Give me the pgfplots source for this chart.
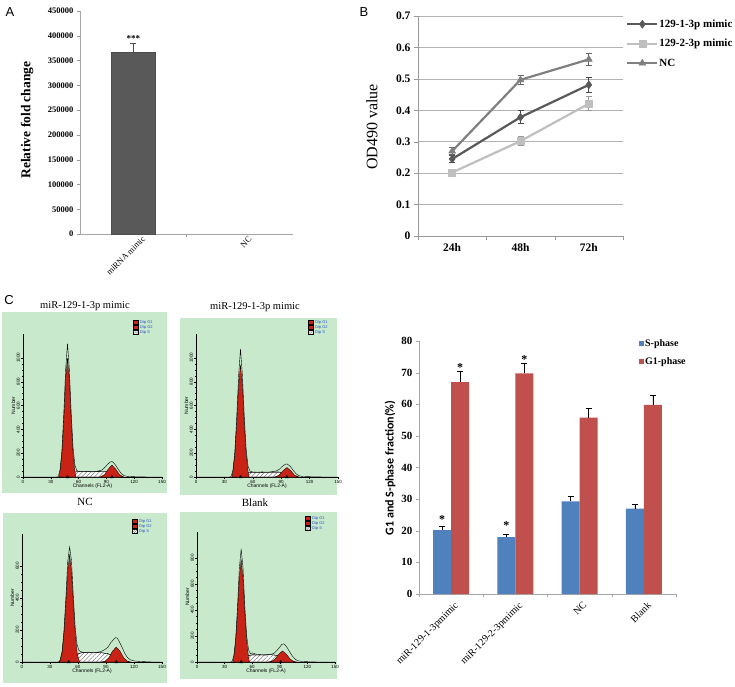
\documentclass[border=0pt]{standalone}
\usepackage{fontspec}
\setmainfont{Liberation Serif}
\newfontfamily\arial{Liberation Sans}
\newfontfamily\calibri{Carlito}
\usepackage{pgfplots}
\pgfplotsset{compat=1.18}
\usetikzlibrary{patterns,patterns.meta}

\definecolor{exblue}{RGB}{79,129,189}
\definecolor{exred}{RGB}{192,80,77}
\definecolor{fcsgreen}{RGB}{200,233,204}
\definecolor{fcsred}{RGB}{200,35,20}
\definecolor{fcsblue}{RGB}{40,80,200}
\definecolor{odA}{RGB}{89,89,89}
\definecolor{odB}{RGB}{191,191,191}
\definecolor{odC}{RGB}{128,128,128}

\newcommand{\fsz}[1]{\fontsize{#1}{#1}\selectfont}

% small legend of the cell-cycle histograms
\newcommand{\fcsleg}[2]{%
  \begin{scope}[shift={(#1pt,-#2pt)}]
    \filldraw[fill=fcsred, draw=black, line width=0.2pt] (0,1.8pt) rectangle (5pt,-1.8pt);
    \filldraw[fill=fcsred, draw=black, line width=0.2pt] (0,-3.2pt) rectangle (5pt,-6.8pt);
    \filldraw[fill=white, draw=black, line width=0.2pt] (0,-8.2pt) rectangle (5pt,-11.8pt);
    \path[pattern={Lines[angle=45,distance=1.5pt,line width=0.25pt]}, pattern color=black!70] (0,-8.2pt) rectangle (5pt,-11.8pt);
    \node[anchor=west, font=\arial\fsz{4}, text=fcsblue, inner sep=0pt] at (7pt,0) {Dip G1};
    \node[anchor=west, font=\arial\fsz{4}, text=fcsblue, inner sep=0pt] at (7pt,-5pt) {Dip G2};
    \node[anchor=west, font=\arial\fsz{4}, text=fcsblue, inner sep=0pt] at (7pt,-10pt) {Dip S};
  \end{scope}}

\pgfplotsset{
  fcs/.style={scale only axis, anchor=south west, axis lines*=left,
    xmin=0, xmax=150, ymin=0, xtick={0,30,...,150},
    minor x tick num=5, minor y tick num=3, tick align=outside,
    major tick length=2pt, minor tick length=1pt,
    tick style={black, line width=0.3pt}, axis line style={black, line width=0.4pt},
    ticklabel style={font=\arial\fsz{4.5}, inner sep=1pt},
    yticklabel style={rotate=90, anchor=south},
    label style={font=\arial\fsz{5}},
    xlabel={Channels (FL2-A)}, ylabel={Number},
    xlabel style={yshift=4pt}, ylabel style={yshift=-3pt},
    clip=false, scaled y ticks=false,
    /pgf/number format/1000 sep={}, /pgf/number format/assume math mode=true},
  hatchS/.style={fill=white, postaction={pattern={Lines[angle=45,distance=3pt,line width=0.35pt]}, pattern color=black!65}, draw=black, line width=0.3pt},
  redpk/.style={fill=fcsred, draw=black, line width=0.3pt},
  envl/.style={black, line width=0.4pt},
  tri/.style={only marks, mark=triangle*, mark size=1.6pt, mark options={black}},
}

\begin{document}
\begin{tikzpicture}
\useasboundingbox (0,0) rectangle (735pt,-686pt);
\fill[white] (0,0) rectangle (735pt,-686pt);

% ---------------- A ----------------
\node[font=\arial\fsz{13}] at (10pt,-12pt) {A};
\node[rotate=90, font=\bfseries\fsz{13.5}] at (27pt,-120pt) {Relative fold change};
\begin{axis}[scale only axis, anchor=south west, at={(80pt,-234pt)}, width=213pt, height=223pt,
  ymin=0, ymax=450000, ytick={0,50000,...,450000},
  xmin=-0.5, xmax=1.5, xtick={0.5}, xticklabels={},
  extra x ticks={0,1}, extra x tick labels={miRNA mimic,NC},
  extra x tick style={major tick length=0pt, xticklabel style={rotate=45, anchor=north east, font=\fsz{8.5}, inner sep=1pt, xshift=6pt, yshift=-6pt}},
  axis lines*=left, axis line style={black!35}, tick style={black!40}, tick align=outside, major tick length=3pt,
  yticklabel style={font=\bfseries\fsz{8.5}},
  scaled y ticks=false, /pgf/number format/fixed, /pgf/number format/1000 sep={},
  /pgf/number format/assume math mode=true, clip=false]
\addplot[ybar, bar width=44pt, fill=black!65, draw=black!70,
  error bars/.cd, y dir=plus, y explicit, error bar style={black!70, line width=0.8pt},
  error mark options={rotate=90, mark size=3pt, black!70, line width=0.8pt}]
  coordinates {(0,367000) +- (0,18000)};
\node[font=\bfseries\fsz{9}] at (axis cs:0,394000) {***};
\end{axis}

% ---------------- B ----------------
\node[font=\arial\fsz{13}] at (364pt,-12pt) {B};
\node[rotate=90, font=\fsz{16}] at (372pt,-127pt) {OD490 value};
\begin{axis}[scale only axis, anchor=south west, at={(418pt,-236pt)}, width=205pt, height=220pt,
  ymin=0, ymax=0.7, ytick={0,0.1,0.2,0.3,0.4,0.5,0.6,0.7},
  ymajorgrids, grid style={black!30, line width=0.6pt},
  xmin=-0.5, xmax=2.5, xtick={-0.5,0.5,1.5,2.5}, xticklabels={},
  extra x ticks={0,1,2}, extra x tick labels={24h,48h,72h},
  extra x tick style={major tick length=0pt, xticklabel style={font=\bfseries\fsz{11.5}, yshift=-4pt}},
  axis lines*=left, axis line style={black!40}, tick style={black!40}, tick align=outside, major tick length=4pt,
  ticklabel style={font=\bfseries\fsz{11.5}},
  /pgf/number format/assume math mode=true, clip=false,
  legend style={at={(1,1)}, anchor=north west, draw=none, fill=none, font=\bfseries\fsz{11},
    nodes={inner sep=1pt, text height=8pt, text depth=2pt}, row sep=7.5pt},
  legend cell align=left,
  legend image code/.code={\draw[#1, mark repeat=2, mark phase=2] plot coordinates {(0pt,0pt) (15pt,0pt) (30pt,0pt)};}]
\addplot[odA, line width=2.2pt, mark=diamond*, mark size=4pt, mark options={solid, line width=0.5pt},
  error bars/.cd, y dir=both, y explicit, error bar style={odA!80!black, line width=1pt},
  error mark options={rotate=90, mark size=3pt, odA!80!black, line width=1pt}]
  coordinates {(0,0.245) +- (0,0.012) (1,0.378) +- (0,0.02) (2,0.481) +- (0,0.024)};
\addlegendentry{129-1-3p mimic}
\addplot[odB, line width=2.2pt, mark=square*, mark size=3.5pt, mark options={solid, line width=0.5pt},
  error bars/.cd, y dir=both, y explicit, error bar style={odB!80!black, line width=1pt},
  error mark options={rotate=90, mark size=3pt, odB!80!black, line width=1pt}]
  coordinates {(0,0.202) +- (0,0.006) (1,0.302) +- (0,0.015) (2,0.421) +- (0,0.022)};
\addlegendentry{129-2-3p mimic}
\addplot[odC, line width=2.2pt, mark=triangle*, mark size=4pt, mark options={solid, line width=0.5pt},
  error bars/.cd, y dir=both, y explicit, error bar style={odC!80!black, line width=1pt},
  error mark options={rotate=90, mark size=3pt, odC!80!black, line width=1pt}]
  coordinates {(0,0.27) +- (0,0.012) (1,0.497) +- (0,0.015) (2,0.562) +- (0,0.018)};
\addlegendentry{NC}
\end{axis}

% ---------------- C : histograms ----------------
\node[font=\arial\fsz{13}] at (9pt,-300pt) {C};
\fill[fcsgreen] (2pt,-312pt) rectangle (167pt,-493pt);
\fill[fcsgreen] (180pt,-318pt) rectangle (337pt,-495pt);
\fill[fcsgreen] (3pt,-513pt) rectangle (167pt,-683pt);
\fill[fcsgreen] (180pt,-512pt) rectangle (337pt,-679pt);
\node[font=\fsz{10.5}] at (85pt,-306pt) {miR-129-1-3p mimic};
\node[font=\fsz{10.5}] at (255pt,-307pt) {miR-129-1-3p mimic};
\node[font=\fsz{11}] at (85pt,-502pt) {NC};
\node[font=\fsz{11}] at (255pt,-503pt) {Blank};

\begin{axis}[fcs, at={(23pt,-477pt)}, width=139pt, height=143pt, ymax=1200, ytick={0,200,...,1000}]
\addplot[hatchS] coordinates {(44,0)(48,8)(51,22)(54,36)(57,43)(60,45)(70,44)(80,45)(88,46)(92,40)(96,27)(99,14)(102,5)(105,0)} \closedcycle;
\addplot[redpk] coordinates {(39,0)(40,50)(42,200)(44,480)(46,820)(48,1000)(50,820)(52,480)(54,200)(56,50)(57,0)} \closedcycle;
\addplot[redpk] coordinates {(83,0)(84,3)(88,21)(92,67)(96,100)(100,67)(104,21)(108,3)(109,0)} \closedcycle;
\addplot[envl] coordinates {(0,0)(36,0)(38,3)(40,60)(42,225)(44,530)(46,900)(48,1120)(50,905)(52,540)(54,250)(56,100)(58,55)(60,48)(65,44)(70,46)(75,43)(80,48)(85,58)(88,78)(91,105)(94,125)(96,130)(98,118)(100,98)(103,62)(106,30)(109,12)(112,6)(118,3)(125,2)(135,0)(150,0)};
\addplot[tri] coordinates {(48,0)(96,0)};
\end{axis}
\fcsleg{133}{322}

\begin{axis}[fcs, at={(196pt,-477pt)}, width=142pt, height=143pt, ymax=1200, ytick={0,200,...,1000}]
\addplot[hatchS] coordinates {(43,0)(47,7)(50,20)(53,32)(56,38)(60,40)(70,39)(80,41)(88,41)(92,36)(96,24)(99,12)(102,4)(105,0)} \closedcycle;
\addplot[redpk] coordinates {(38,0)(39,47)(41,188)(43,451)(45,771)(47,940)(49,771)(51,451)(53,188)(55,47)(56,0)} \closedcycle;
\addplot[redpk] coordinates {(83,0)(84,2)(88,16)(92,54)(96,80)(100,54)(104,16)(108,2)(109,0)} \closedcycle;
\addplot[envl] coordinates {(0,0)(35,0)(37,3)(39,55)(41,210)(43,500)(45,850)(47,1075)(49,855)(51,505)(53,230)(55,90)(57,50)(60,42)(65,40)(70,43)(75,40)(80,44)(85,52)(88,65)(91,88)(94,105)(96,110)(98,100)(100,85)(103,52)(106,25)(109,10)(112,5)(118,3)(125,2)(135,0)(150,0)};
\addplot[tri] coordinates {(47,0)(96,0)};
\end{axis}
\fcsleg{308}{322}

\begin{axis}[fcs, at={(22pt,-662pt)}, width=140pt, height=128pt, ymax=800, ytick={0,200,400,600}]
\addplot[hatchS] coordinates {(46,0)(50,10)(54,28)(58,45)(62,55)(66,60)(75,60)(85,58)(92,52)(97,40)(101,26)(105,13)(109,4)(112,0)} \closedcycle;
\addplot[redpk] coordinates {(40,0)(41,13)(43,60)(45,181)(47,369)(49,570)(51,670)(53,570)(55,369)(57,181)(59,60)(61,13)(62,0)} \closedcycle;
\addplot[redpk] coordinates {(85,0)(86,1)(89,5)(93,26)(97,68)(101,94)(105,68)(109,26)(113,5)(116,1)(117,0)} \closedcycle;
\addplot[envl] coordinates {(0,0)(38,0)(40,3)(41,15)(43,68)(45,200)(47,400)(49,630)(51,719)(53,635)(55,410)(57,215)(59,110)(61,72)(64,62)(68,58)(72,62)(76,57)(80,60)(84,64)(88,75)(92,92)(95,120)(98,140)(100,152)(102,150)(104,130)(107,95)(110,55)(113,28)(116,14)(120,7)(125,4)(132,2)(140,0)(150,0)};
\addplot[tri] coordinates {(50,0)(101,0)};
\end{axis}
\fcsleg{132}{521}

\begin{axis}[fcs, at={(197pt,-662pt)}, width=138pt, height=130pt, ymax=1000, ytick={0,200,...,800}]
\addplot[hatchS] coordinates {(43,0)(47,8)(50,22)(53,38)(56,50)(60,55)(70,54)(80,56)(86,52)(90,42)(93,30)(97,16)(101,6)(104,0)} \closedcycle;
\addplot[redpk] coordinates {(39,0)(40,40)(42,158)(44,379)(46,648)(48,790)(50,648)(52,379)(54,158)(56,40)(57,0)} \closedcycle;
\addplot[redpk] coordinates {(77,0)(78,1)(81,5)(85,24)(89,62)(93,85)(97,62)(101,24)(105,5)(108,1)(109,0)} \closedcycle;
\addplot[envl] coordinates {(0,0)(36,0)(38,3)(40,45)(42,175)(44,420)(46,720)(48,870)(50,725)(52,425)(54,200)(56,95)(58,65)(60,70)(62,66)(65,58)(70,56)(75,54)(80,58)(84,68)(87,90)(90,115)(92,135)(94,140)(96,130)(98,110)(101,75)(104,42)(107,20)(110,9)(115,4)(122,2)(132,0)(150,0)};
\addplot[tri] coordinates {(48,0)(91,0)};
\end{axis}
\fcsleg{305}{518}

% ---------------- C : bar chart ----------------
\node[rotate=90, font=\calibri\bfseries\fsz{12}] at (390pt,-468pt) {G1 and S-phase fraction(\%)};
\begin{axis}[scale only axis, anchor=south west, at={(419pt,-594pt)}, width=257pt, height=253pt,
  ymin=0, ymax=80, ytick={0,10,...,80},
  xmin=-0.5, xmax=3.5, xtick={-0.5,0.5,1.5,2.5,3.5}, xticklabels={},
  extra x ticks={0,1,2,3}, extra x tick labels={miR-129-1-3pmimic,miR-129-2-3pmimic,NC,Blank},
  extra x tick style={major tick length=0pt, xticklabel style={rotate=45, anchor=north east, font=\fsz{10}, inner sep=1pt, xshift=-2pt, yshift=-6pt}},
  axis lines*=left, axis line style={black!35}, tick style={black!35}, tick align=outside, major tick length=3pt,
  yticklabel style={font=\bfseries\fsz{11}}, /pgf/number format/assume math mode=true,
  ybar=0pt, bar width=18pt, clip=false,
  legend style={at={(0.844,1.02)}, anchor=north west, draw=none, fill=none, font=\bfseries\fsz{10},
    nodes={inner sep=1pt, text height=7pt, text depth=2pt}, row sep=7pt},
  legend cell align=left,
  legend image code/.code={\fill[#1, draw=none] (0pt,-2.5pt) rectangle (5pt,2.5pt);}]
\addplot[fill=exblue, draw=none, error bars/.cd, y dir=plus, y explicit,
  error bar style={black, line width=0.6pt}, error mark options={rotate=90, black, mark size=3pt, line width=0.6pt}]
  coordinates {(0,20.2) +- (0,1.2) (1,18) +- (0,1) (2,29.3) +- (0,1.5) (3,27) +- (0,1.3)};
\addlegendentry{S-phase}
\addplot[fill=exred, draw=none, error bars/.cd, y dir=plus, y explicit,
  error bar style={black, line width=0.6pt}, error mark options={rotate=90, black, mark size=3pt, line width=0.6pt}]
  coordinates {(0,67) +- (0,3.4) (1,69.8) +- (0,3.2) (2,55.8) +- (0,2.8) (3,59.8) +- (0,3)};
\addlegendentry{G1-phase}
\node[font=\bfseries\fsz{12}] at (axis cs:-0.14,23.5) {*};
\node[font=\bfseries\fsz{12}] at (axis cs:0.14,71.5) {*};
\node[font=\bfseries\fsz{12}] at (axis cs:0.86,21.5) {*};
\node[font=\bfseries\fsz{12}] at (axis cs:1.14,74) {*};
\end{axis}
\end{tikzpicture}
\end{document}
